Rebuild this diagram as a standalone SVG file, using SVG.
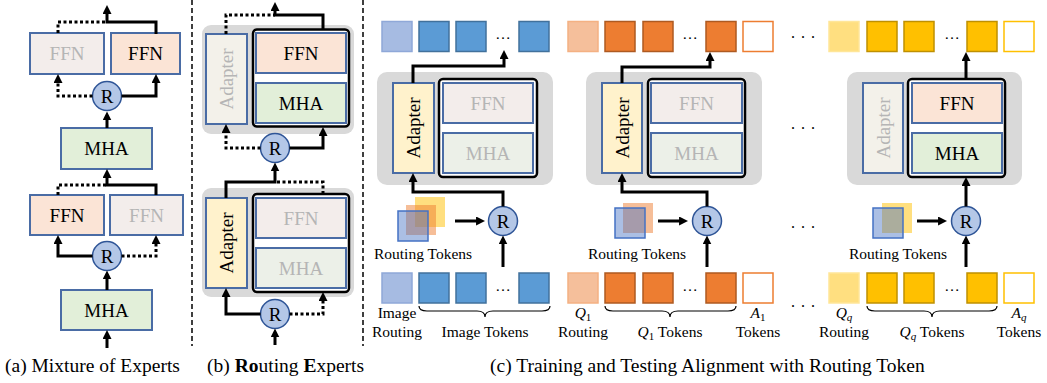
<svg xmlns="http://www.w3.org/2000/svg" width="1047" height="383" viewBox="0 0 1047 383">
<defs>
<marker id="ah" viewBox="0 0 10 10" markerWidth="9" markerHeight="9" markerUnits="userSpaceOnUse" refX="5.5" refY="5" orient="auto">
<path d="M0,0 L10,5 L0,10 z" fill="#000"/>
</marker>
<style>
.t{font-family:"Liberation Serif","Times New Roman",serif;fill:#000}
.n{font-size:19px;text-anchor:middle}
.sm{font-size:15.5px;text-anchor:middle}
.cap{font-size:19.5px}
.off{fill:#b5b5b5}
.box{stroke:#4a6ca5;stroke-width:2}
.ffn{fill:#fbe4d6}
.mha{fill:#e2efd9}
.ada{fill:#fff2cc}
.ffnx{fill:#f3edeb}
.mhax{fill:#ecf0e8}
.adax{fill:#f3f1ea}
.blk{fill:#d9d9d9}
.exp{fill:#fff;stroke:#000;stroke-width:2.5}
.r{fill:#b4c7e7;stroke:#2f5597;stroke-width:1.5}
.w{fill:none;stroke:#000;stroke-width:3}
.d{stroke-dasharray:3 2.5}
.sep{fill:none;stroke:#000;stroke-width:1.5;stroke-dasharray:5 3}
.ir{fill:#a6bbe2;stroke:#8fa8d8;stroke-width:1.5}
.it{fill:#5b9bd5;stroke:#41719c;stroke-width:1.5}
.or{fill:#f5bf9b;stroke:#f4b183;stroke-width:1.5}
.ot{fill:#ed7d31;stroke:#ae5a21;stroke-width:1.5}
.oa{fill:#fff;stroke:#ed7d31;stroke-width:1.5}
.yr{fill:#ffdf80;stroke:#ffe699;stroke-width:1.5}
.yt{fill:#ffc000;stroke:#bf9000;stroke-width:1.5}
.ya{fill:#fff;stroke:#ffc000;stroke-width:1.5}
.sy{fill:#ffc000;fill-opacity:.5}
.so{fill:#ed7d31;fill-opacity:.5}
.sb{fill:#4472c4;fill-opacity:.45;stroke:#4472c4;stroke-width:1.5}
.br{fill:none;stroke:#000;stroke-width:1.2}
</style>
</defs>

<!-- separators -->
<g id="separators">
<line class="sep" x1="192" y1="0" x2="192" y2="346"/>
<line class="sep" x1="363" y1="0" x2="363" y2="346"/>
</g>

<!-- Panel (a) -->
<g id="a_ffn1_off"><rect class="box ffnx" x="30" y="33" width="74" height="41"/><text class="t n off" x="67" y="60">FFN</text></g>
<g id="a_ffn1"><rect class="box ffn" x="111" y="33" width="69" height="41"/><text class="t n" x="145.5" y="60">FFN</text></g>
<g id="a_r1"><circle class="r" cx="107" cy="96" r="14.5"/><text class="t n" x="107" y="102.5">R</text></g>
<g id="a_mha1"><rect class="box mha" x="61" y="128" width="91" height="41"/><text class="t n" x="106.5" y="155">MHA</text></g>
<g id="a_ffn2"><rect class="box ffn" x="30" y="195" width="74" height="40"/><text class="t n" x="67" y="221.5">FFN</text></g>
<g id="a_ffn2_off"><rect class="box ffnx" x="110" y="195" width="73" height="40"/><text class="t n off" x="146.5" y="221.5">FFN</text></g>
<g id="a_r2"><circle class="r" cx="107" cy="256" r="14.5"/><text class="t n" x="107" y="262.5">R</text></g>
<g id="a_mha2"><rect class="box mha" x="61" y="290" width="91" height="40"/><text class="t n" x="106.5" y="316.5">MHA</text></g>

<!-- Panel (b) -->
<g id="b_block1"><rect class="blk" x="202" y="25" width="152" height="109" rx="9"/></g>
<g id="b_adapter1_off"><rect class="box adax" x="206" y="34" width="41" height="90"/><text class="t n off" transform="translate(226.5,79) rotate(-90)" dominant-baseline="central">Adapter</text></g>
<g id="b_expert1"><rect class="exp" x="253" y="29.5" width="96" height="97" rx="4"/>
<rect class="box ffn" x="256" y="33" width="90" height="40"/><text class="t n" x="301" y="59.5">FFN</text>
<rect class="box mha" x="256" y="83" width="90" height="40"/><text class="t n" x="301" y="109.5">MHA</text></g>
<g id="b_r1"><circle class="r" cx="275" cy="148" r="14.5"/><text class="t n" x="275" y="154.5">R</text></g>
<g id="b_block2"><rect class="blk" x="202" y="188" width="152" height="109" rx="9"/></g>
<g id="b_adapter2"><rect class="box ada" x="206" y="198" width="41" height="90"/><text class="t n" transform="translate(226.5,243) rotate(-90)" dominant-baseline="central">Adapter</text></g>
<g id="b_expert2"><rect class="exp" x="253" y="194" width="96" height="98" rx="4"/>
<rect class="box ffnx" x="256" y="198" width="90" height="40"/><text class="t n off" x="301" y="224.5">FFN</text>
<rect class="box mhax" x="256" y="248" width="90" height="40"/><text class="t n off" x="301" y="274.5">MHA</text></g>
<g id="b_r2"><circle class="r" cx="275" cy="314" r="14.5"/><text class="t n" x="275" y="320.5">R</text></g>

<!-- Panel (c) group 1: image -->
<g id="c1_out_tokens">
<rect class="ir" x="382" y="21.5" width="30" height="30"/><rect class="it" x="419" y="21.5" width="30" height="30"/><rect class="it" x="456" y="21.5" width="30" height="30"/><rect class="it" x="519" y="21.5" width="30" height="30"/>
<text class="t sm" x="503" y="39">…</text></g>
<g id="c1_block"><rect class="blk" x="377" y="72" width="176" height="113" rx="10"/></g>
<g id="c1_adapter"><rect class="box ada" x="393" y="83" width="41" height="90"/><text class="t n" transform="translate(413.5,128) rotate(-90)" dominant-baseline="central">Adapter</text></g>
<g id="c1_expert"><rect class="exp" x="439" y="79" width="98" height="98" rx="4"/>
<rect class="box ffnx" x="443" y="83" width="90" height="40"/><text class="t n off" x="488" y="109.5">FFN</text>
<rect class="box mhax" x="443" y="133" width="90" height="40"/><text class="t n off" x="488" y="159.5">MHA</text></g>
<g id="c1_routing_tokens"><rect class="sy" x="415" y="197" width="30" height="30"/><rect class="so" x="406" y="205" width="30" height="30"/><rect class="sb" x="398" y="211" width="30" height="30"/>
<text class="t sm" x="423" y="259">Routing Tokens</text></g>
<g id="c1_r"><circle class="r" cx="503" cy="221" r="14.5"/><text class="t n" x="503" y="227.5">R</text></g>
<g id="c1_in_tokens">
<rect class="ir" x="382" y="273" width="30" height="30"/><rect class="it" x="419" y="273" width="30" height="30"/><rect class="it" x="456" y="273" width="30" height="30"/><rect class="it" x="519" y="273" width="30" height="30"/>
<text class="t sm" x="503" y="291">…</text>
<text class="t sm" x="397" y="318">Image</text><text class="t sm" x="397" y="337">Routing</text>
<path class="br" d="M419,306 Q419,311 427,311 L477,311 Q485,311 485,317 Q485,311 493,311 L542,311 Q550,311 550,306"/>
<text class="t sm" x="485" y="337">Image Tokens</text></g>

<!-- group 2: Q1 -->
<g id="c2_out_tokens">
<rect class="or" x="568" y="21.5" width="30" height="30"/><rect class="ot" x="605" y="21.5" width="30" height="30"/><rect class="ot" x="643" y="21.5" width="30" height="30"/><rect class="ot" x="706" y="21.5" width="30" height="30"/><rect class="oa" x="743" y="21.5" width="30" height="30"/>
<text class="t sm" x="690" y="39">…</text></g>
<g id="c2_block"><rect class="blk" x="586" y="72" width="176" height="113" rx="10"/></g>
<g id="c2_adapter"><rect class="box ada" x="602" y="83" width="40" height="90"/><text class="t n" transform="translate(622,128) rotate(-90)" dominant-baseline="central">Adapter</text></g>
<g id="c2_expert"><rect class="exp" x="648" y="79" width="97" height="98" rx="4"/>
<rect class="box ffnx" x="651" y="83" width="91" height="40"/><text class="t n off" x="696.5" y="109.5">FFN</text>
<rect class="box mhax" x="651" y="133" width="91" height="40"/><text class="t n off" x="696.5" y="159.5">MHA</text></g>
<g id="c2_routing_tokens"><rect class="so" x="623" y="203" width="30" height="30"/><rect class="sb" x="615" y="208" width="30" height="30"/>
<text class="t sm" x="637" y="259">Routing Tokens</text></g>
<g id="c2_r"><circle class="r" cx="707" cy="221" r="14.5"/><text class="t n" x="707" y="227.5">R</text></g>
<g id="c2_in_tokens">
<rect class="or" x="568" y="273" width="30" height="30"/><rect class="ot" x="605" y="273" width="30" height="30"/><rect class="ot" x="643" y="273" width="30" height="30"/><rect class="ot" x="706" y="273" width="30" height="30"/><rect class="oa" x="743" y="273" width="30" height="30"/>
<text class="t sm" x="690" y="291">…</text>
<text class="t sm" x="583" y="318"><tspan font-style="italic">Q</tspan><tspan font-size="11" dy="3">1</tspan></text><text class="t sm" x="583" y="337">Routing</text>
<path class="br" d="M605,306 Q605,311 613,311 L662,311 Q670,311 670,317 Q670,311 678,311 L728,311 Q736,311 736,306"/>
<text class="t sm" x="670" y="337"><tspan font-style="italic">Q</tspan><tspan font-size="11" dy="3">1</tspan><tspan dy="-3"> Tokens</tspan></text>
<text class="t sm" x="758" y="318"><tspan font-style="italic">A</tspan><tspan font-size="11" dy="3">1</tspan></text><text class="t sm" x="758" y="337">Tokens</text></g>

<!-- group 3: Qq -->
<g id="c3_out_tokens">
<rect class="yr" x="829" y="21.5" width="30" height="30"/><rect class="yt" x="867" y="21.5" width="30" height="30"/><rect class="yt" x="904" y="21.5" width="30" height="30"/><rect class="yt" x="967" y="21.5" width="30" height="30"/><rect class="ya" x="1004" y="21.5" width="30" height="30"/>
<text class="t sm" x="952" y="39">…</text></g>
<g id="c3_block"><rect class="blk" x="847" y="72" width="175" height="113" rx="10"/></g>
<g id="c3_adapter_off"><rect class="box adax" x="863" y="83" width="40" height="90"/><text class="t n off" transform="translate(883,128) rotate(-90)" dominant-baseline="central">Adapter</text></g>
<g id="c3_expert"><rect class="exp" x="908" y="79" width="97" height="98" rx="4"/>
<rect class="box ffn" x="912" y="83" width="90" height="40"/><text class="t n" x="957" y="109.5">FFN</text>
<rect class="box mha" x="912" y="133" width="90" height="40"/><text class="t n" x="957" y="159.5">MHA</text></g>
<g id="c3_routing_tokens"><rect class="sy" x="882" y="203" width="30" height="30"/><rect class="sb" x="873" y="208" width="30" height="30"/>
<text class="t sm" x="898" y="259">Routing Tokens</text></g>
<g id="c3_r"><circle class="r" cx="966" cy="221" r="14.5"/><text class="t n" x="966" y="227.5">R</text></g>
<g id="c3_in_tokens">
<rect class="yr" x="829" y="273" width="30" height="30"/><rect class="yt" x="867" y="273" width="30" height="30"/><rect class="yt" x="904" y="273" width="30" height="30"/><rect class="yt" x="967" y="273" width="30" height="30"/><rect class="ya" x="1004" y="273" width="30" height="30"/>
<text class="t sm" x="952" y="291">…</text>
<text class="t sm" x="844" y="318"><tspan font-style="italic">Q</tspan><tspan font-size="11" dy="3" font-style="italic">q</tspan></text><text class="t sm" x="844" y="337">Routing</text>
<path class="br" d="M867,306 Q867,311 875,311 L924,311 Q932,311 932,317 Q932,311 940,311 L989,311 Q997,311 997,306"/>
<text class="t sm" x="932" y="337"><tspan font-style="italic">Q</tspan><tspan font-size="11" dy="3" font-style="italic">q</tspan><tspan dy="-3"> Tokens</tspan></text>
<text class="t sm" x="1019" y="318"><tspan font-style="italic">A</tspan><tspan font-size="11" dy="3" font-style="italic">q</tspan></text><text class="t sm" x="1019" y="337">Tokens</text></g>

<!-- ellipses between groups -->
<g id="c_gap_dots">
<text class="t" font-size="16" letter-spacing="6" x="791" y="38">...</text>
<text class="t" font-size="16" letter-spacing="6" x="791" y="129">...</text>
<text class="t" font-size="16" letter-spacing="6" x="791" y="228">...</text>
<text class="t" font-size="16" letter-spacing="6" x="791" y="307">...</text>
</g>

<!-- connectors -->
<g id="connectors">
<!-- (a) -->
<path class="w" d="M156,34 V22 H107 V9" marker-end="url(#ah)"/>
<path class="w d" d="M58,33 V22 H107"/>
<path class="w d" d="M92.5,96 H58 V78" marker-end="url(#ah)"/>
<path class="w" d="M121.5,96 H156 V78" marker-end="url(#ah)"/>
<path class="w" d="M107,128 V115.5" marker-end="url(#ah)"/>
<path class="w" d="M156,195 V185 H107 V173" marker-end="url(#ah)"/>
<path class="w d" d="M58,195 V185 H107"/>
<path class="w" d="M92.5,256 H58 V239" marker-end="url(#ah)"/>
<path class="w d" d="M121.5,256 H156 V239" marker-end="url(#ah)"/>
<path class="w" d="M107,290 V274.5" marker-end="url(#ah)"/>
<path class="w" d="M107,348 V334" marker-end="url(#ah)"/>
<!-- (b) -->
<path class="w" d="M323,30 V15 H275 V6" marker-end="url(#ah)"/>
<path class="w d" d="M226,34 V15 H275"/>
<path class="w d" d="M260.5,148 H226 V128" marker-end="url(#ah)"/>
<path class="w" d="M289.5,148 H323 V131" marker-end="url(#ah)"/>
<path class="w" d="M226,198 V182 H275 V166.5" marker-end="url(#ah)"/>
<path class="w d" d="M323,194 V182 H275"/>
<path class="w" d="M260.5,314 H226 V292" marker-end="url(#ah)"/>
<path class="w d" d="M289.5,314 H323 V296" marker-end="url(#ah)"/>
<path class="w" d="M275,345 V332.5" marker-end="url(#ah)"/>
<!-- (c) group 1 -->
<path class="w" d="M413,83 V66 H504 V54" marker-end="url(#ah)"/>
<path class="w" d="M503,206.5 V192 H413 V177" marker-end="url(#ah)"/>
<path class="w" d="M455,221 H481" marker-end="url(#ah)"/>
<path class="w" d="M503,267 V239.5" marker-end="url(#ah)"/>
<!-- group 2 -->
<path class="w" d="M622,83 V67 H710 V56" marker-end="url(#ah)"/>
<path class="w" d="M707,206.5 V192 H622 V177" marker-end="url(#ah)"/>
<path class="w" d="M658,221 H684" marker-end="url(#ah)"/>
<path class="w" d="M707,267 V239.5" marker-end="url(#ah)"/>
<!-- group 3 -->
<path class="w" d="M966,79 V56" marker-end="url(#ah)"/>
<path class="w" d="M966,206.5 V181" marker-end="url(#ah)"/>
<path class="w" d="M917,221 H943" marker-end="url(#ah)"/>
<path class="w" d="M966,267 V239.5" marker-end="url(#ah)"/>
</g>

<!-- captions -->
<g id="captions">
<text class="t cap" x="5" y="372">(a) Mixture of Experts</text>
<text class="t cap" x="207" y="372">(b) <tspan font-weight="bold">Ro</tspan>uting <tspan font-weight="bold">E</tspan>xperts</text>
<text class="t cap" x="490" y="372">(c) Training and Testing Alignment with Routing Token</text>
</g>
</svg>
